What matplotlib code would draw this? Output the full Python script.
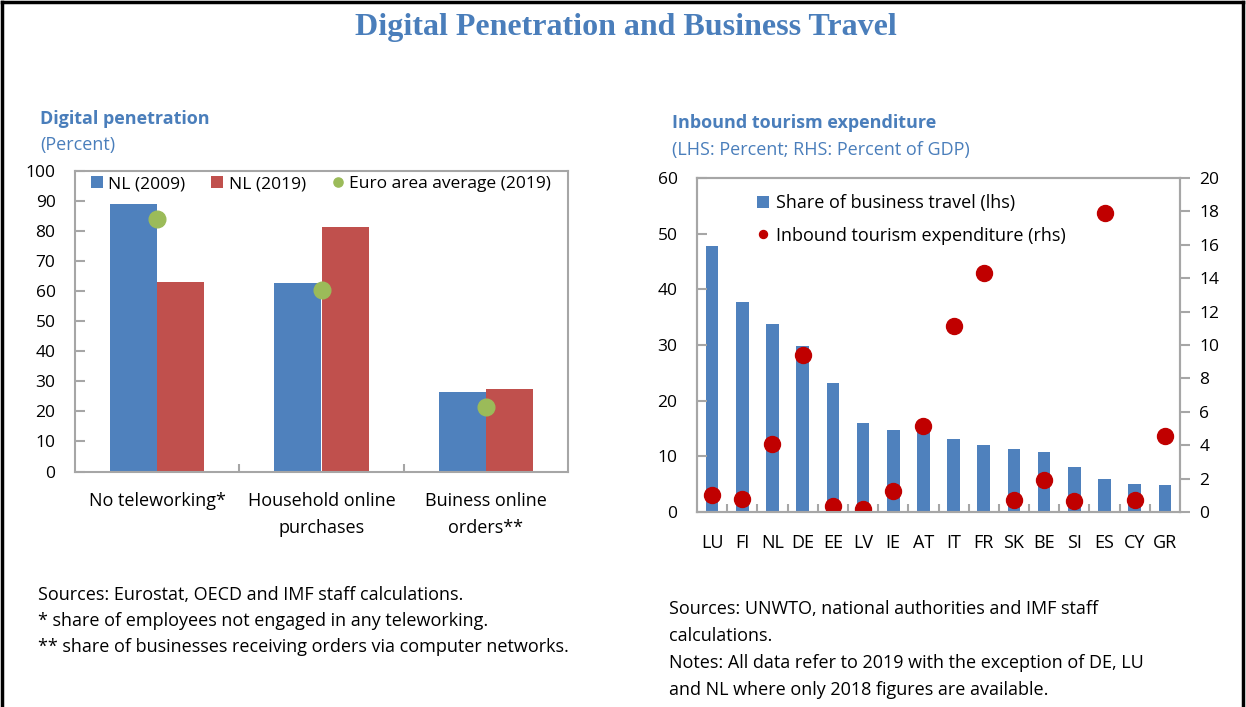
import numpy as np
import matplotlib.pyplot as plt
from matplotlib.lines import Line2D

# Left panel: digital penetration (percent)
dp_categories = ["No teleworking*", "Household online\npurchases", "Buiness online\norders**"]
nl_2009 = [89.0, 62.8, 26.4]
nl_2019 = [62.9, 81.5, 27.4]
euro_avg_2019 = [83.9, 60.4, 21.6]

# Right panel: inbound tourism
countries = ["LU", "FI", "NL", "DE", "EE", "LV", "IE", "AT", "IT", "FR",
             "SK", "BE", "SI", "ES", "CY", "GR"]
business_share = [47.8, 37.8, 33.7, 29.9, 23.1, 15.9, 14.7, 15.2, 13.2, 12.1,
                  11.3, 10.7, 8.1, 5.9, 5.1, 4.9]
tourism_exp = [1.04, 0.80, 4.07, 9.42, 0.34, 0.18, 1.28, 5.15, 11.16, 14.30,
               0.70, 1.94, 0.66, 17.90, 0.70, 4.53]

BLUE = "#4F81BD"
RED = "#C0504D"
GREEN = "#9BBB59"
DOT_RED = "#C00000"
HEAD = "#4A7EBB"
SPINE = "#A6A6A6"

plt.rcParams['font.family'] = ['Open Sans', 'DejaVu Sans']
plt.rcParams['font.size'] = 13

W, H = 1246, 707
fig = plt.figure(figsize=(W / 100, H / 100), dpi=100)


def px_axes(x0, y0, x1, y1):
    # pixel box (top-left origin) -> figure fraction
    return fig.add_axes([x0 / W, 1 - y1 / H, (x1 - x0) / W, (y1 - y0) / H])


def style_frame(ax):
    for s in ax.spines.values():
        s.set_color(SPINE)
        s.set_linewidth(1.5)


# frame around the figure (top, left, right)
fig.add_artist(Line2D([2 / W, 2 / W], [0, 1 - 2 / H], color="black", lw=2.5))
fig.add_artist(Line2D([1 - 3 / W, 1 - 3 / W], [0, 1 - 2 / H], color="black", lw=2.5))
fig.add_artist(Line2D([2 / W, 1 - 3 / W], [1 - 2 / H, 1 - 2 / H], color="black", lw=2.5))

fig.text(626 / W, 1 - 27 / H, "Digital Penetration and Business Travel",
         family="Liberation Serif", weight="bold", size=23, color=HEAD,
         ha="center", va="center")

# ---- left panel ----
fig.text(40 / W, 1 - 119 / H, "Digital penetration", weight="bold", size=13,
         color=HEAD, va="center")
fig.text(40 / W, 1 - 145 / H, "(Percent)", size=13, color=HEAD, va="center")

ax1 = px_axes(75, 171, 568, 471.5)
x = np.arange(len(dp_categories))
bw = 0.287
b1 = ax1.bar(x - bw / 2, nl_2009, bw, color=BLUE, label="NL (2009)")
b2 = ax1.bar(x + bw / 2, nl_2019, bw, color=RED, label="NL (2019)")
d1, = ax1.plot(x, euro_avg_2019, "o", color=GREEN, ms=12, label="Euro area average (2019)")
ax1.set_xlim(-0.5, len(dp_categories) - 0.5)
ax1.set_ylim(0, 100)
ax1.set_yticks(range(0, 101, 10))
ax1.set_xticks(x)
ax1.set_xticklabels(dp_categories, linespacing=1.6)
ax1.set_xticks(np.arange(0.5, len(dp_categories) - 0.5), minor=True)
ax1.tick_params(axis="x", which="major", length=0, pad=15)
ax1.tick_params(axis="x", which="minor", direction="in", length=6, color=SPINE, width=1.5)
ax1.tick_params(axis="y", direction="in", length=7, color=SPINE, width=1.5, pad=14,
                labelsize=12.5)
style_frame(ax1)
ax1.legend([b1, b2, d1], [b1.get_label(), b2.get_label(), d1.get_label()],
           loc="upper left", bbox_to_anchor=(0.0, 1.035), ncol=3, frameon=False,
           handlelength=0.7, handletextpad=0.3, columnspacing=1.5, markerscale=0.55,
           fontsize=12.5)

fig.text(38 / W, 1 - 595 / H, "Sources: Eurostat, OECD and IMF staff calculations.",
         size=13, va="center")
fig.text(38 / W, 1 - 621 / H, "* share of employees not engaged in any teleworking.",
         size=13, va="center")
fig.text(38 / W, 1 - 647 / H, "** share of businesses receiving orders via computer networks.",
         size=13, va="center")

# ---- right panel ----
fig.text(672 / W, 1 - 123 / H, "Inbound tourism expenditure", weight="bold", size=13,
         color=HEAD, va="center")
fig.text(672 / W, 1 - 150 / H, "(LHS: Percent; RHS: Percent of GDP)", size=13,
         color=HEAD, va="center")

ax2 = px_axes(697, 178, 1180, 512)
xc = np.arange(len(countries))
ax2.bar(xc, business_share, 0.42, color=BLUE, label="Share of business travel (lhs)")
ax2.set_xlim(-0.5, len(countries) - 0.5)
ax2.set_ylim(0, 60)
ax2.set_yticks(range(0, 61, 10))
ax2.set_xticks(xc)
ax2.set_xticklabels(countries)
ax2.set_xticks(np.arange(0.5, len(countries) - 0.5), minor=True)
ax2.tick_params(axis="x", which="major", length=0, pad=16)
ax2.tick_params(axis="x", which="minor", direction="in", length=6, color=SPINE, width=1.5)
ax2.tick_params(axis="y", direction="in", length=7, color=SPINE, width=1.5, pad=14,
                labelsize=12.5)
style_frame(ax2)

ax3 = ax2.twinx()
ax3.plot(xc, tourism_exp, "o", color=DOT_RED, ms=11.5, label="Inbound tourism expenditure (rhs)")
ax3.set_ylim(0, 20)
ax3.set_yticks(range(0, 21, 2))
ax3.tick_params(axis="y", direction="out", length=7, color=SPINE, width=1.5, pad=7,
                labelsize=12.5)
style_frame(ax3)

h1, l1 = ax2.get_legend_handles_labels()
h2, l2 = ax3.get_legend_handles_labels()
ax3.legend(h1 + h2, l1 + l2, loc="upper left", bbox_to_anchor=(0.09, 1.0), frameon=False,
           handlelength=0.7, handletextpad=0.35, markerscale=0.5, fontsize=13,
           labelspacing=0.8)

fig.text(669 / W, 1 - 609 / H, "Sources: UNWTO, national authorities and IMF staff",
         size=13, va="center")
fig.text(669 / W, 1 - 636 / H, "calculations.", size=13, va="center")
fig.text(669 / W, 1 - 663 / H, "Notes: All data refer to 2019 with the exception of DE, LU",
         size=13, va="center")
fig.text(669 / W, 1 - 690 / H, "and NL where only 2018 figures are available.",
         size=13, va="center")

fig.savefig("out.png", dpi=100)
